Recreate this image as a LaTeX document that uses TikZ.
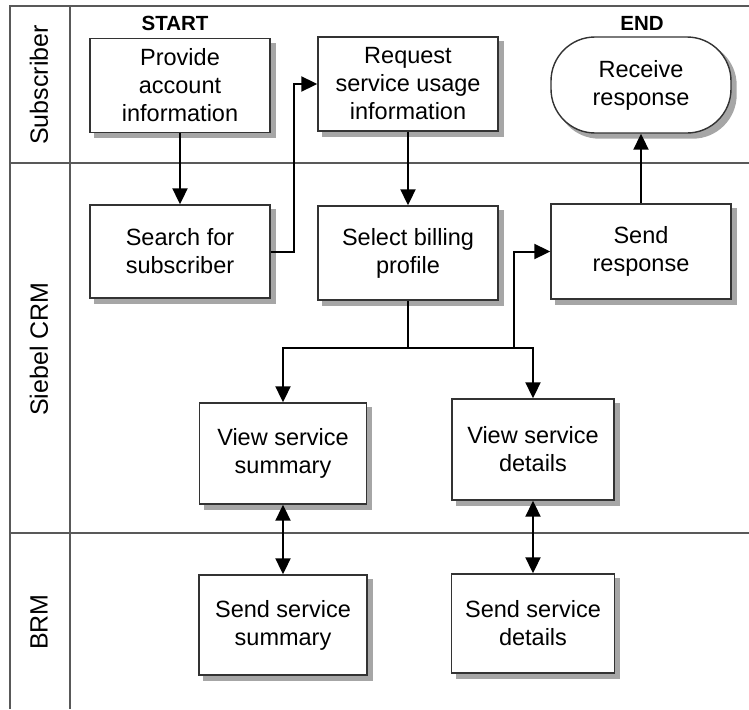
\documentclass[tikz,border=0pt]{standalone}
\usepackage{fontspec}
\setmainfont{Liberation Sans}
\usetikzlibrary{positioning,arrows.meta,backgrounds}

\begin{document}
\begin{tikzpicture}[x=1pt,y=-1pt,
        lane/.style={draw=black!65, line width=1.5pt},
        lanename/.style={rotate=90, font=\fontsize{25}{30}\selectfont},
        box/.style={draw=black!80, line width=1.4pt, fill=white, align=center,
            minimum width=180pt, minimum height=94pt, inner sep=2pt,
            font=\fontsize{23.5}{28}\selectfont},
        shade/.style={fill=black!35},
        flow/.style={line width=2pt, -{Triangle[length=16pt,width=15pt]}},
        both/.style={line width=2pt, {Triangle[length=16pt,width=15pt]}-{Triangle[length=16pt,width=15pt]}},
        tag/.style={font=\bfseries\fontsize{20.5}{24}\selectfont}]
        \useasboundingbox (0,0) rectangle (749,709);
        % Lanes
        \draw[lane] (749,6) -- (10,6) -- (10,709);
        \draw[lane] (70,6) -- (70,709);
        \draw[lane] (10,163) -- (749,163);
        \draw[lane] (10,533) -- (749,533);
        \node[lanename] (l1) at (39,85) {Subscriber};
        \node[lanename] (l2) at (39,349) {Siebel CRM};
        \node[lanename] (l3) at (39,622) {BRM};
        % Nodes
        \node (prov) at (180,85.5) [box] {Provide\\account\\information};
        \node (req) at (408,84) [box] {Request\\service usage\\information};
        \node (recv) at (641,85) [box, minimum height=96pt, rounded corners=44pt] {Receive\\response};
        \node (srch) at (180,251.5) [box, minimum height=93pt] {Search for\\subscriber};
        \node (sel) at (408,253) [box] {Select billing\\profile};
        \node (sresp) at (641,251.5) [box, minimum height=95pt] {Send\\response};
        \node (vsum) at (283,453.5) [box, minimum width=167pt, minimum height=101pt] {View service\\summary};
        \node (vdet) at (533,449.5) [box, minimum width=162pt, minimum height=101pt] {View service\\details};
        \node (ssum) at (283,625) [box, minimum width=168pt, minimum height=100pt] {Send service\\summary};
        \node (sdet) at (533,623.5) [box, minimum width=163pt, minimum height=99pt] {Send service\\details};
        \node[tag] (start) at (175,23) {START};
        \node[tag] (end) at (642,23) {END};
        \coordinate (split) at (408,348);
        \coordinate (back) at (514,348);
        % Shadows
        \begin{scope}[on background layer]
            \foreach \n in {prov,req,srch,sel,sresp,vsum,vdet,ssum,sdet} {
                \fill[shade] ([shift={(5,5)}]\n.north west) rectangle ([shift={(5,5)}]\n.south east);
            }
            \fill[shade, rounded corners=44pt] ([shift={(5,5)}]recv.north west) rectangle ([shift={(5,5)}]recv.south east);
        \end{scope}
        % Edges
        \draw[flow] (prov) -- (srch);
        \draw[flow] (srch.east) -- ++(23,0) |- (req.west);
        \draw[flow] (req) -- (sel);
        \draw[line width=2pt] (sel.south) -- (split);
        \draw[flow] (split) -| (vsum.north);
        \draw[flow] (split) -| (vdet.north);
        \draw[flow] (back) |- (sresp.west);
        \draw[flow] (sresp) -- (recv);
        \foreach \a/\b in {vsum/ssum, vdet/sdet} {
            \draw[both] (\a) -- (\b);
        }
\end{tikzpicture}
\end{document}
